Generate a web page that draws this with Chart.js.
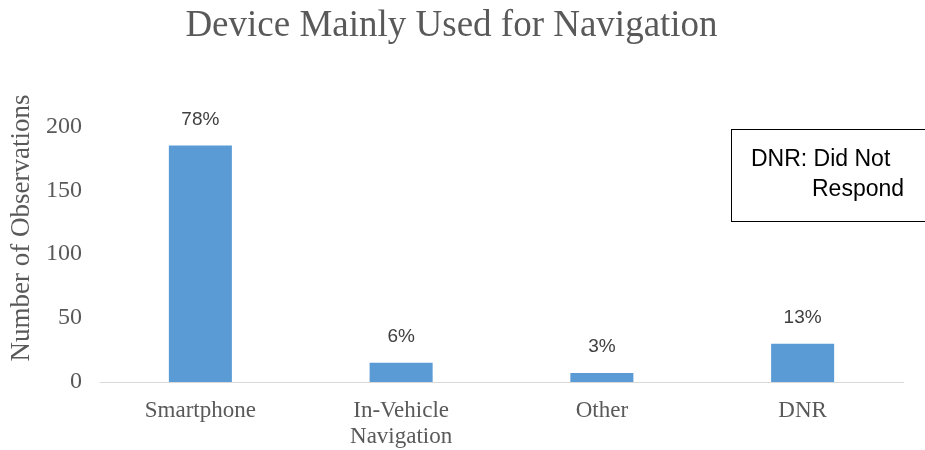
<!DOCTYPE html>
<html>
<head>
<meta charset="utf-8">
<script src="https://cdn.jsdelivr.net/npm/chart.js@4.4.1/dist/chart.umd.min.js"></script>
<style>
html, body { margin: 0; background: #fff; }
#wrap { width: 925px; height: 450px; }
</style>
</head>
<body>
<div id="wrap"><canvas id="deviceChart"></canvas></div>
<script>
const categories = [['Smartphone'], ['In-Vehicle', 'Navigation'], ['Other'], ['DNR']];
const observations = [185, 15, 7, 30];
const shareLabels = ['78%', '6%', '3%', '13%'];
const yTicks = [0, 50, 100, 150, 200];

const serif = '"Liberation Serif", "Times New Roman", serif';
const sans = '"Liberation Sans", Arial, sans-serif';

// percentage above each bar
const barLabels = {
    id: 'barLabels',
    afterDatasetsDraw(chart) {
        const ctx = chart.ctx;
        const meta = chart.getDatasetMeta(0);
        ctx.save();
        ctx.font = '19px ' + sans;
        ctx.fillStyle = '#404040';
        ctx.textAlign = 'center';
        ctx.textBaseline = 'middle';
        meta.data.forEach((bar, i) => {
            ctx.fillText(shareLabels[i], bar.x, bar.y - 26);
        });
        ctx.restore();
    }
};

// y axis title + the DNR note box
const extras = {
    id: 'extras',
    afterDraw(chart) {
        const ctx = chart.ctx;
        ctx.save();
        ctx.translate(22, 228);
        ctx.rotate(-Math.PI / 2);
        ctx.font = '27px ' + serif;
        ctx.fillStyle = '#595959';
        ctx.textAlign = 'center';
        ctx.textBaseline = 'middle';
        ctx.fillText('Number of Observations', 0, 0);
        ctx.restore();

        ctx.save();
        ctx.strokeStyle = '#000';
        ctx.lineWidth = 1;
        ctx.strokeRect(731.5, 129.5, 210, 92);
        ctx.font = '23px ' + sans;
        ctx.fillStyle = '#000';
        ctx.textBaseline = 'alphabetic';
        ctx.fillText('DNR: Did Not', 751, 166);
        ctx.fillText('Respond', 812, 196);
        ctx.restore();
    }
};

new Chart(document.getElementById('deviceChart'), {
    type: 'bar',
    data: {
        labels: categories,
        datasets: [{
            data: observations,
            backgroundColor: '#5b9bd5',
            barPercentage: 1,
            categoryPercentage: 0.314
        }]
    },
    options: {
        responsive: true,
        maintainAspectRatio: false,
        animation: false,
        layout: { padding: { left: 0, right: 22, top: 0, bottom: 0 } },
        plugins: {
            legend: { display: false },
            tooltip: { enabled: false },
            title: {
                display: true,
                text: 'Device Mainly Used for Navigation',
                color: '#595959',
                font: { family: serif, size: 37, weight: 'normal' },
                padding: { top: 4, bottom: 78 }
            }
        },
        scales: {
            x: {
                grid: { display: false, drawTicks: false },
                border: { display: true, color: '#d9d9d9', width: 1 },
                ticks: {
                    color: '#595959',
                    font: { family: serif, size: 23, lineHeight: 1.17 },
                    padding: 15,
                    maxRotation: 0
                },
                afterFit(scale) { scale.height = 68; }
            },
            y: {
                min: 0,
                max: 200,
                grid: { display: false, drawTicks: false },
                border: { display: false },
                afterBuildTicks(scale) { scale.ticks = yTicks.map(v => ({ value: v })); },
                ticks: {
                    color: '#595959',
                    font: { family: serif, size: 24 },
                    padding: 18
                },
                afterFit(scale) { scale.width = 100; }
            }
        }
    },
    plugins: [barLabels, extras]
});
</script>
</body>
</html>
